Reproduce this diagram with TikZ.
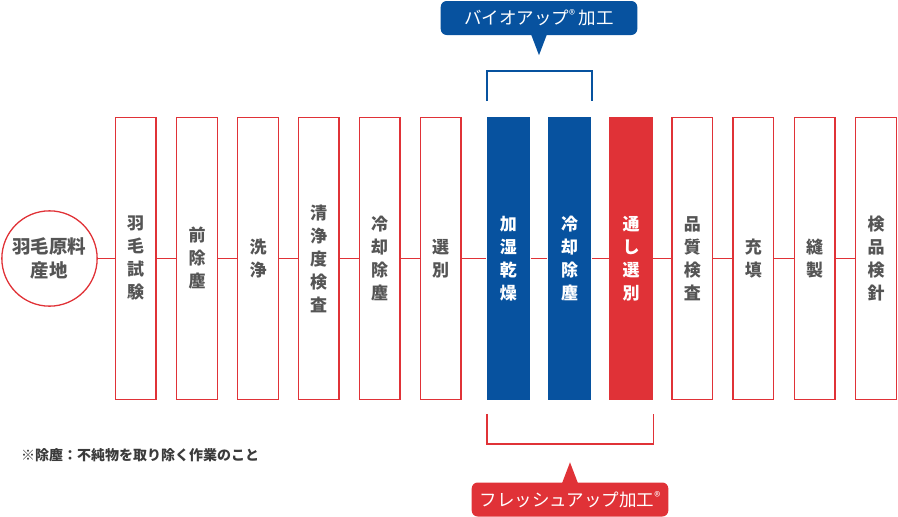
\documentclass[tikz,border=0pt]{standalone}
\usepackage{fontspec}
\setmainfont{Noto Sans CJK JP}

\definecolor{fred}{HTML}{E03237}
\definecolor{fblue}{HTML}{07529F}
\definecolor{fgray}{HTML}{555555}

\newcommand{\regmark}{\raisebox{5pt}{\fontsize{12.5}{12}\selectfont ®}}

\tikzset{
  stepbox/.style={rectangle, draw=fred, line width=1.3pt, minimum width=40.7pt, minimum height=281.7pt, inner sep=0pt, text=fgray, align=center, font=\bfseries\fontsize{17}{23}\selectfont},
  bluebox/.style={stepbox, draw=none, fill=fblue, text=white, minimum width=43.3pt, minimum height=283.3pt},
  redbox/.style={stepbox, draw=none, fill=fred, text=white, minimum width=43.3pt, minimum height=283.3pt},
  link/.style={draw=fred, line width=0.9pt},
  tag/.style={rectangle, rounded corners=6pt, minimum width=196.6pt, minimum height=34pt, inner sep=0pt, text=white, font=\fontsize{17.5}{20}\selectfont}
}

\begin{document}
\begin{tikzpicture}[x=1pt, y=-1pt]
			\useasboundingbox (0,0) rectangle (898,517);
			
			% Start (circle)
			\node[circle, draw=fred, line width=1.3pt, minimum size=95.3pt, inner sep=0pt, align=center, text=fgray, font=\bfseries\fontsize{18.5}{24}\selectfont] (P) at (49.5,258.5) {羽毛原料\\産地};
			
			% Process boxes
			\node[stepbox] (B1) at (135.7,258.5) {羽\\毛\\試\\験};
			\node[stepbox] (B2) at (197,258.5) {前\\除\\塵};
			\node[stepbox] (B3) at (258,258.5) {洗\\浄};
			\node[stepbox] (B4) at (318.7,258.5) {清\\浄\\度\\検\\査};
			\node[stepbox] (B5) at (379.5,258.5) {冷\\却\\除\\塵};
			\node[stepbox] (B6) at (440.5,258.5) {選\\別};
			\node[bluebox] (B7) at (508.3,258.5) {加\\湿\\乾\\燥};
			\node[bluebox] (B8) at (569.7,258.5) {冷\\却\\除\\塵};
			\node[redbox] (B9) at (631,258.5) {通\\し\\選\\別};
			\node[stepbox] (B10) at (692.3,258.5) {品\\質\\検\\査};
			\node[stepbox] (B11) at (753.3,258.5) {充\\填};
			\node[stepbox] (B12) at (814.5,258.5) {縫\\製};
			\node[stepbox] (B13) at (876,258.5) {検\\品\\検\\針};
			
			% Flow line
			\draw[link] (P) -- (B1);
			\draw[link] (B1) -- (B2);
			\draw[link] (B2) -- (B3);
			\draw[link] (B3) -- (B4);
			\draw[link] (B4) -- (B5);
			\draw[link] (B5) -- (B6);
			\draw[link] (B6) -- (B7);
			\draw[link] (B7) -- (B8);
			\draw[link] (B8) -- (B9);
			\draw[link] (B9) -- (B10);
			\draw[link] (B10) -- (B11);
			\draw[link] (B11) -- (B12);
			\draw[link] (B12) -- (B13);
			
			% Top bracket and tag
			\draw[fblue, line width=1.5pt] ([xshift=1pt,yshift=15pt]B7.north west) -- ++(0,-30) -| ([yshift=15pt]B8.north east);
			\node[tag, fill=fblue] (U) at (539,18) {バイオアップ\regmark\ 加工};
			\fill[fblue] ([xshift=-8pt,yshift=1pt]U.south) -- ++(8,21) -- ++(8,-21) -- cycle;
			
			% Bottom bracket and tag
			\draw[fred, line width=1.5pt] ([xshift=1pt,yshift=-13pt]B7.south west) -- ++(0,30) -| ([yshift=-13pt]B9.south east);
			\node[tag, fill=fred] (F) at (570,499.5) {フレッシュアップ加工\regmark};
			\fill[fred] ([xshift=-8pt,yshift=-1pt]F.north) -- ++(8,-21) -- ++(8,21) -- cycle;
			
			% Note
			\node[anchor=west, inner sep=0pt, text=fgray!70!black, font=\bfseries\fontsize{14}{16}\selectfont] (N) at (21,455) {※除塵：不純物を取り除く作業のこと};
		\end{tikzpicture}
\end{document}
